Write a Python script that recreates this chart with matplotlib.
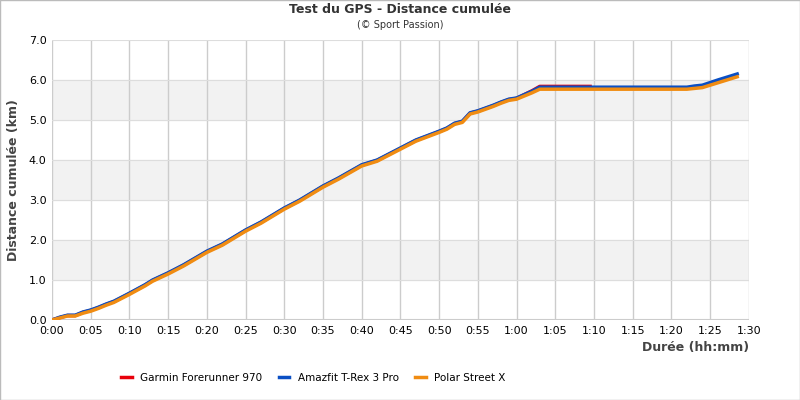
import matplotlib
matplotlib.use("Agg")
import matplotlib.pyplot as plt
import numpy as np

minutes = [0, 1, 2, 3, 4, 5, 6, 7, 8, 10, 12, 13, 15, 17, 20, 22, 25, 27, 30, 32, 35, 37, 40, 42, 45, 47, 50, 51, 52, 53, 54, 55, 57, 58, 59, 60, 62, 63, 70, 75, 82, 83, 84, 86, 88.5]
blue = [0, 0.07, 0.12, 0.12, 0.2, 0.25, 0.32, 0.4, 0.47, 0.67, 0.88, 1.0, 1.18, 1.38, 1.72, 1.9, 2.25, 2.45, 2.8, 3.0, 3.35, 3.55, 3.88, 4.0, 4.3, 4.5, 4.72, 4.8, 4.92, 4.97, 5.18, 5.23, 5.37, 5.45, 5.52, 5.55, 5.72, 5.82, 5.82, 5.82, 5.82, 5.85, 5.87, 6.0, 6.15]
red_minutes = [0, 1, 2, 3, 4, 5, 6, 7, 8, 10, 12, 13, 15, 17, 20, 22, 25, 27, 30, 32, 35, 37, 40, 42, 45, 47, 50, 51, 52, 53, 54, 55, 57, 58, 59, 60, 62, 63, 69.5]
red = [0, 0.06, 0.11, 0.11, 0.19, 0.24, 0.31, 0.39, 0.46, 0.66, 0.87, 0.99, 1.17, 1.37, 1.71, 1.89, 2.24, 2.44, 2.79, 2.99, 3.34, 3.54, 3.87, 3.99, 4.29, 4.49, 4.71, 4.79, 4.91, 4.96, 5.17, 5.22, 5.36, 5.44, 5.51, 5.54, 5.73, 5.84, 5.84]
orange = [0, 0.05, 0.1, 0.1, 0.17, 0.22, 0.29, 0.37, 0.44, 0.64, 0.85, 0.97, 1.15, 1.35, 1.69, 1.87, 2.22, 2.42, 2.77, 2.97, 3.32, 3.52, 3.85, 3.97, 4.27, 4.47, 4.69, 4.77, 4.89, 4.94, 5.15, 5.2, 5.34, 5.42, 5.49, 5.52, 5.68, 5.77, 5.77, 5.77, 5.77, 5.79, 5.81, 5.93, 6.08]

fig = plt.figure(figsize=(8, 4), dpi=100)
ax = fig.add_axes([0.065, 0.2, 0.871, 0.7])
for lo in (1, 3, 5):
    ax.axhspan(lo, lo + 1, color="#f2f2f2", zorder=0)
ax.set_xlim(0, 90)
ax.set_ylim(0, 7)
ax.set_xticks(np.arange(0, 91, 5))
ax.set_xticklabels([f"{m//60}:{m%60:02d}" for m in range(0, 91, 5)], fontsize=8)
ax.set_yticks(np.arange(0, 7.1, 1))
ax.set_yticklabels([f"{v:.1f}" for v in np.arange(0, 7.1, 1)], fontsize=8)
ax.grid(axis="x", color="#cccccc", lw=1)
ax.grid(axis="y", color="#dddddd", lw=0.8)
ax.set_axisbelow(True)
for s in ax.spines.values():
    s.set_visible(False)
ax.tick_params(length=0, pad=4)
ax.axhline(0, color="#cccccc", lw=1.5)

ax.plot(red_minutes, red, color="#e8000b", lw=2.5, label="Garmin Forerunner 970", zorder=3)
ax.plot(minutes, blue, color="#0a4fc4", lw=2.5, label="Amazfit T-Rex 3 Pro", zorder=4)
ax.plot(minutes, orange, color="#f08c12", lw=2.5, label="Polar Street X", zorder=5)

ax.set_ylabel("Distance cumulée (km)", fontsize=9, fontweight="bold", color="#444444", labelpad=6)
ax.set_xlabel("Durée (hh:mm)", fontsize=9, fontweight="bold", color="#444444", loc="right", labelpad=4)
fig.text(0.5, 0.968, "Test du GPS - Distance cumulée", ha="center", fontsize=9, fontweight="bold", color="#333333")
fig.text(0.5, 0.93, "(© Sport Passion)", ha="center", fontsize=7, color="#333333")
handles, labels = ax.get_legend_handles_labels()
fig.legend(handles, labels, loc="lower left", bbox_to_anchor=(0.14, 0.02), ncol=3, frameon=False,
           fontsize=7.5, handlelength=1, columnspacing=1.6)
fig.patches.append(plt.Rectangle((0, 0), 1, 1, transform=fig.transFigure, fill=False, ec="#bbbbbb", lw=1))
fig.savefig("out.png", dpi=100)
